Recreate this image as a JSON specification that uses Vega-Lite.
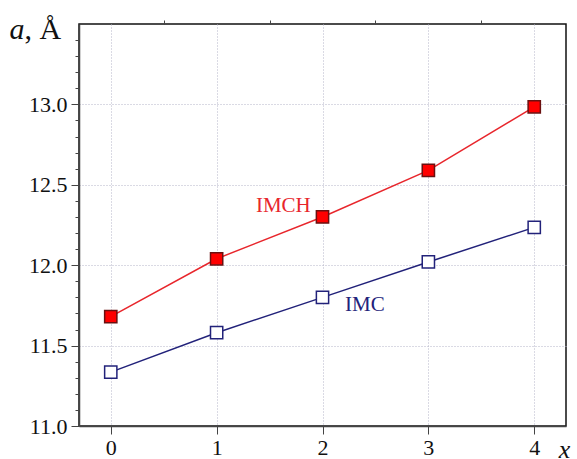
{
  "$schema": "https://vega.github.io/schema/vega-lite/v6.json",
  "autosize": {"type": "none"},
  "padding": {"left": 79, "top": 24, "right": 11, "bottom": 33},
  "width": 487,
  "height": 402,
  "background": "white",
  "config": {
    "view": {"stroke": "#111", "strokeWidth": 1.5},
    "font": "Liberation Serif",
    "axis": {"labelFont": "Liberation Serif", "titleFont": "Liberation Serif"},
    "text": {"font": "Liberation Serif"}
  },
  "datasets": {
    "pts": [
      {"x": 0, "a": 11.68, "series": "IMCH"},
      {"x": 1, "a": 12.04, "series": "IMCH"},
      {"x": 2, "a": 12.30, "series": "IMCH"},
      {"x": 3, "a": 12.59, "series": "IMCH"},
      {"x": 4, "a": 12.985, "series": "IMCH"},
      {"x": 0, "a": 11.335, "series": "IMC"},
      {"x": 1, "a": 11.58, "series": "IMC"},
      {"x": 2, "a": 11.80, "series": "IMC"},
      {"x": 3, "a": 12.02, "series": "IMC"},
      {"x": 4, "a": 12.235, "series": "IMC"}
    ],
    "labels": [
      {"x": 1.63, "a": 12.37, "label": "IMCH", "series": "IMCH"},
      {"x": 2.4, "a": 11.75, "label": "IMC", "series": "IMC"}
    ]
  },
  "resolve": {"axis": {"x": "independent", "y": "independent"}},
  "layer": [
    {
      "data": {"name": "pts"},
      "mark": {"type": "line", "strokeWidth": 1.5},
      "encoding": {
        "x": {"field": "x", "type": "quantitative", "scale": {"domain": [-0.3, 4.3], "nice": false, "zero": false},
          "axis": {"values": [0, 1, 2, 3, 4], "format": "d", "title": "x", "titleFontStyle": "italic", "titleFont": "Liberation Serif", "titleFontWeight": "normal", "titleFontSize": 26, "titleX": 485, "titleY": 31, "titleBaseline": "alphabetic", "titleAlign": "center", "titleColor": "#111",
            "tickSize": 8, "tickColor": "#444", "domainColor": "#444", "domainWidth": 1.5, "labelFontSize": 22, "labelColor": "#111", "labelPadding": 3, "labelFont": "Liberation Serif",
            "grid": true, "gridColor": "#b4b4c8", "gridDash": [1, 2], "gridWidth": 1}},
        "y": {"field": "a", "type": "quantitative", "scale": {"domain": [11.0, 13.5], "nice": false, "zero": false},
          "axis": {"orient": "left", "values": [11.0, 11.5, 12.0, 12.5, 13.0], "format": ".1f", "title": "a", "titleFontStyle": "italic", "titleFont": "Liberation Serif", "titleFontWeight": "normal", "titleFontSize": 30, "titleAngle": 0, "titleX": -70, "titleY": 14, "titleAlign": "left", "titleBaseline": "alphabetic", "titleColor": "#111",
            "tickSize": 8, "tickColor": "#444", "domainColor": "#444", "domainWidth": 1.5, "labelFontSize": 22, "labelColor": "#111", "labelPadding": 4, "labelFont": "Liberation Serif",
            "grid": true, "gridColor": "#b4b4c8", "gridDash": [1, 2], "gridWidth": 1}},
        "color": {"field": "series", "type": "nominal", "scale": {"domain": ["IMCH", "IMC"], "range": ["#e8262c", "#22227a"]}, "legend": null}
      }
    },
    {
      "data": {"name": "pts"},
      "mark": {"type": "point", "shape": "square", "size": 150, "strokeWidth": 1.5, "opacity": 1},
      "encoding": {
        "x": {"field": "x", "type": "quantitative",
          "axis": {"values": [0.5, 1.5, 2.5, 3.5], "labels": false, "tickSize": 4, "tickColor": "#444", "domain": false, "grid": false, "title": null}},
        "y": {"field": "a", "type": "quantitative",
          "axis": {"orient": "left", "values": [11.1, 11.2, 11.3, 11.4, 11.6, 11.7, 11.8, 11.9, 12.1, 12.2, 12.3, 12.4, 12.6, 12.7, 12.8, 12.9, 13.1, 13.2, 13.3, 13.4], "labels": false, "tickSize": 4, "tickColor": "#444", "domain": false, "grid": false,
            "title": ", Å", "titleFont": "Liberation Serif", "titleFontWeight": "normal", "titleFontSize": 30, "titleAngle": 0, "titleX": -55, "titleY": 14, "titleAlign": "left", "titleBaseline": "alphabetic", "titleColor": "#111"}},
        "fill": {"field": "series", "type": "nominal", "scale": {"domain": ["IMCH", "IMC"], "range": ["#ff0000", "#ffffff"]}, "legend": null},
        "stroke": {"field": "series", "type": "nominal", "scale": {"domain": ["IMCH", "IMC"], "range": ["#6a1010", "#22227a"]}, "legend": null}
      }
    },
    {
      "data": {"name": "labels"},
      "mark": {"type": "text", "font": "Liberation Serif", "fontSize": 21, "align": "center", "baseline": "middle"},
      "encoding": {
        "x": {"field": "x", "type": "quantitative", "axis": null},
        "y": {"field": "a", "type": "quantitative", "axis": null},
        "text": {"field": "label"},
        "color": {"field": "series", "type": "nominal", "scale": {"domain": ["IMCH", "IMC"], "range": ["#e8262c", "#22227a"]}, "legend": null}
      }
    }
  ]
}
